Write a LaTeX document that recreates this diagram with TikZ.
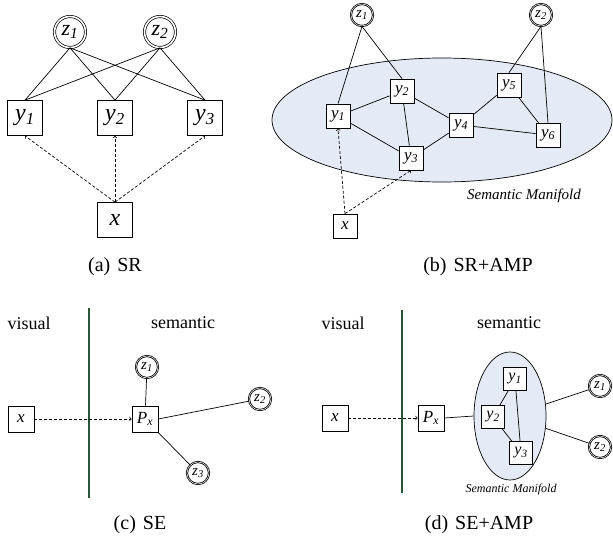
\documentclass[tikz,border=0pt]{standalone}
\usepackage{fontspec}
\setmainfont{Liberation Serif}
\usetikzlibrary{shapes.geometric}
\definecolor{manifold}{RGB}{228,234,246}
\definecolor{divider}{RGB}{38,84,52}
\newcommand{\lab}[2]{\textit{#1}\textsubscript{\textit{#2}}}
\tikzset{
  bigbox/.style={draw, fill=white, minimum size=35pt, inner sep=0pt, font=\fontsize{24}{26}\selectfont},
  smallbox/.style={draw, fill=white, minimum size=24pt, inner sep=0pt, font=\fontsize{17}{19}\selectfont},
  tinybox/.style={draw, fill=white, minimum size=23pt, inner sep=0pt, font=\fontsize{16}{18}\selectfont},
  bigclass/.style={draw, double, double distance=1.6pt, circle, minimum size=31pt, inner sep=0pt, font=\fontsize{22}{24}\selectfont},
  smallclass/.style={draw, double, double distance=0.5pt, line width=0.8pt, circle, minimum size=22pt, inner sep=0pt, font=\fontsize{15}{17}\selectfont},
  manifold/.style={draw, ellipse, fill=manifold, inner sep=0pt},
  caption/.style={font=\fontsize{20}{22}\selectfont},
  side/.style={font=\fontsize{18}{20}\selectfont},
  proj/.style={dash pattern=on 3pt off 2pt, ->},
}

\begin{document}
\begin{tikzpicture}[x=1pt, y=-1pt, line width=0.7pt]
  \useasboundingbox (0,0) rectangle (613,538);

  % (a) SR
  \node[bigclass] (az1) at (70,32) {\lab{z}{1}};
  \node[bigclass] (az2) at (160,32) {\lab{z}{2}};
  \node[bigbox] (ay1) at (25,118) {\lab{y}{1}};
  \node[bigbox] (ay2) at (115,118) {\lab{y}{2}};
  \node[bigbox] (ay3) at (205,118) {\lab{y}{3}};
  \node[bigbox] (ax) at (115,220) {\textit{x}};
  \foreach \y in {ay1,ay2,ay3} {
    \draw (az1.south) -- (\y.north);
    \draw (az2.south) -- (\y.north);
    \draw[proj] (ax.north) -- (\y.south);
  }
  \node[caption] (acap) at (115,267) {(a)\hspace{0.35em}SR};

  % (b) SR+AMP
  \node[manifold, minimum width=340pt, minimum height=124pt] (bm) at (442,120) {};
  \node[font=\fontsize{15}{17}\selectfont\itshape] (bmlab) at (524,196) {Semantic Manifold};
  \node[smallclass] (bz1) at (362,15) {\lab{z}{1}};
  \node[smallclass] (bz2) at (541,15) {\lab{z}{2}};
  \node[smallbox] (by1) at (338,116) {\lab{y}{1}};
  \node[smallbox] (by2) at (402,91) {\lab{y}{2}};
  \node[smallbox] (by3) at (411,158) {\lab{y}{3}};
  \node[smallbox] (by4) at (461,125) {\lab{y}{4}};
  \node[smallbox] (by5) at (509,85) {\lab{y}{5}};
  \node[smallbox] (by6) at (548,135) {\lab{y}{6}};
  \node[smallbox] (bx) at (345,226) {\textit{x}};
  \draw (bz1.south) -- (by1.north);
  \draw (bz1.south) -- (by2.north);
  \draw (bz2.south) -- (by5.north);
  \draw (bz2.south) -- (by6.north);
  \draw (by1) -- (by2);
  \draw (by1) -- (by3);
  \draw (by2) -- (by3);
  \draw (by2) -- (by4);
  \draw (by3) -- (by4);
  \draw (by4) -- (by5);
  \draw (by4) -- (by6);
  \draw (by5) -- (by6);
  \draw[proj] (bx.north) -- (by1.south);
  \draw[proj] (bx.north) -- (by3.south);
  \node[caption] (bcap) at (478,267) {(b)\hspace{0.35em}SR+AMP};

  % (c) SE
  \node[side] (cvis) at (29,323) {visual};
  \node[side] (csem) at (183,323) {semantic};
  \draw[divider, line width=1.8pt] (89,308) -- (89,498);
  \node[smallbox, minimum size=26pt] (cx) at (21,419) {\textit{x}};
  \node[smallbox, minimum size=26pt] (cp) at (145,419) {\lab{P}{x}};
  \node[smallclass] (cz1) at (147,367) {\lab{z}{1}};
  \node[smallclass] (cz2) at (260,399) {\lab{z}{2}};
  \node[smallclass] (cz3) at (198,473) {\lab{z}{3}};
  \draw (cp) -- (cz1);
  \draw (cp.east) -- (cz2);
  \draw (cp) -- (cz3);
  \draw[proj] (cx.east) -- (cp.west);
  \node[caption] (ccap) at (140,525) {(c)\hspace{0.35em}SE};

  % (d) SE+AMP
  \node[side] (dvis) at (343,323) {visual};
  \node[side] (dsem) at (509,323) {semantic};
  \draw[divider, line width=1.8pt] (402,310) -- (402,493);
  \node[manifold, minimum width=72pt, minimum height=128pt] (dm) at (510,416) {};
  \node[font=\fontsize{12}{14}\selectfont\itshape] (dmlab) at (511,490) {Semantic Manifold};
  \node[smallbox, minimum size=26pt] (dx) at (335,418) {\textit{x}};
  \node[smallbox, minimum size=26pt] (dp) at (431,418) {\lab{P}{x}};
  \node[tinybox] (dy1) at (515,379) {\lab{y}{1}};
  \node[tinybox] (dy2) at (493,417) {\lab{y}{2}};
  \node[tinybox] (dy3) at (521,453) {\lab{y}{3}};
  \node[smallclass] (dz1) at (600,386) {\lab{z}{1}};
  \node[smallclass] (dz2) at (600,447) {\lab{z}{2}};
  \draw (dy1) -- (dy2);
  \draw (dy1) -- (dy3);
  \draw (dy2) -- (dy3);
  \draw (dp.east) -- (dm.west);
  \draw (dm) -- (dz1);
  \draw (dm) -- (dz2);
  \draw[proj] (dx.east) -- (dp.west);
  \node[caption] (dcap) at (479,525) {(d)\hspace{0.35em}SE+AMP};
\end{tikzpicture}
\end{document}
